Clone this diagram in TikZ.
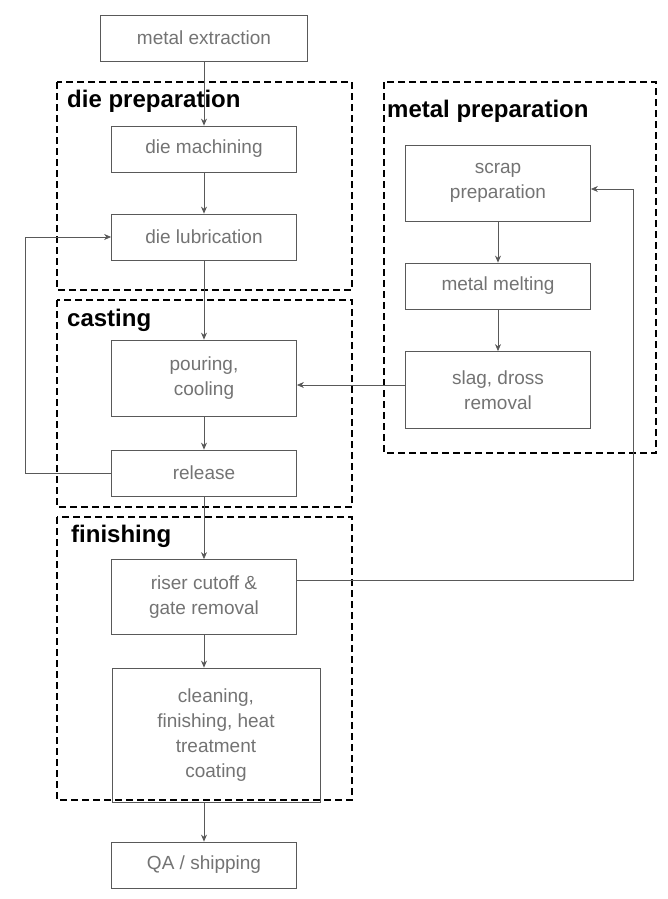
\documentclass[tikz,border=0pt]{standalone}
\usepackage{fontspec}
\setmainfont{Liberation Sans}
\usetikzlibrary{positioning,arrows.meta}
\definecolor{boxgray}{rgb}{0.35,0.35,0.35}
\definecolor{txtgray}{rgb}{0.45,0.45,0.45}
\tikzset{
  proc/.style={draw=boxgray, line width=0.8pt, minimum width=185pt, minimum height=46pt,
    align=center, text=txtgray, font=\fontsize{19}{25}\selectfont, inner sep=2pt},
  stage/.style={draw=black, line width=2pt, dash pattern=on 7pt off 4pt},
  stagelabel/.style={anchor=west, font=\bfseries\fontsize{24}{28}\selectfont, inner sep=1pt},
  flow/.style={draw=boxgray, line width=0.8pt, -{Stealth[length=7pt,width=6pt]}}
}
\begin{document}
\begin{tikzpicture}[x=1pt,y=-1pt]
\useasboundingbox (0,0) rectangle (668,899);
% stages
\draw[stage] (57,82) rectangle (352,290);
\draw[stage] (57,300) rectangle (352,507);
\draw[stage] (57,517) rectangle (352,800);
\draw[stage] (384,82) rectangle (656,453);
\node[stagelabel] (diep) at (66,101) {die preparation};
\node[stagelabel] (cast) at (66,320) {casting};
\node[stagelabel] (fini) at (70,536) {finishing};
\node[stagelabel] (metp) at (386,111) {metal preparation};
% steps
\node[proc, minimum width=207pt] (extract) at (204,38) {metal extraction};
\node[proc] (machine) at (204,149) {die machining};
\node[proc] (lube) at (204,237) {die lubrication};
\node[proc, minimum height=76pt] (pour) at (204,378) {pouring,\\cooling};
\node[proc] (release) at (204,473) {release};
\node[proc, minimum height=75pt] (riser) at (204,597) {riser cutoff \&\\gate removal};
\node[proc, minimum width=208pt, minimum height=134pt] (clean) at (216,735) {cleaning,\\finishing, heat\\treatment\\coating};
\node[proc] (ship) at (204,865) {QA / shipping};
\node[proc, minimum height=76pt] (scrap) at (498,183) {scrap\\preparation};
\node[proc] (melt) at (498,286) {metal melting};
\node[proc, minimum height=77pt] (slag) at (498,390) {slag, dross\\removal};
\coordinate (backL) at (25,473);
\coordinate (backR) at (633,580);
% connectors
\draw[flow] (extract) -- (machine);
\draw[flow] (machine) -- (lube);
\draw[flow] (lube) -- (pour);
\draw[flow] (pour) -- (release);
\draw[flow] (release) -- (riser);
\draw[flow] (riser) -- (riser|-clean.north);
\draw[flow] (clean.south-|ship) -- (ship);
\draw[flow] (scrap) -- (melt);
\draw[flow] (melt) -- (slag);
\draw[flow] (slag.west|-0,385) -- (pour.east|-0,385);
\draw[flow] (release.west) -- (backL) |- (lube.west);
\draw[flow] (riser.east|-backR) -- (backR) |- (scrap.east|-0,189);
\end{tikzpicture}
\end{document}
